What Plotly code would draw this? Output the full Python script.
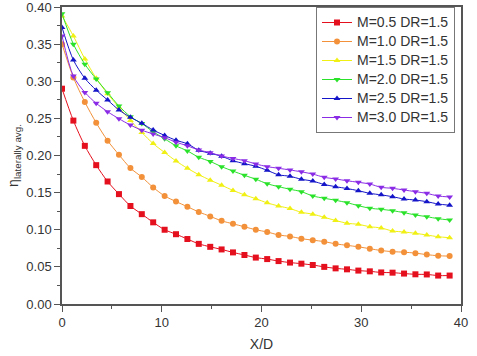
import plotly.graph_objects as go

x_d = [0, 1.14, 2.29, 3.43, 4.57, 5.71, 6.86, 8.0, 9.14, 10.29, 11.43, 12.57, 13.71, 14.86,
       16.0, 17.14, 18.29, 19.43, 20.57, 21.71, 22.86, 24.0, 25.14, 26.29, 27.43, 28.57,
       29.71, 30.86, 32.0, 33.14, 34.29, 35.43, 36.57, 37.71, 38.86]

m05 = [0.290, 0.247, 0.213, 0.187, 0.165, 0.148, 0.132, 0.121, 0.110, 0.100, 0.094, 0.0875,
       0.081, 0.077, 0.0735, 0.0695, 0.066, 0.0625, 0.0605, 0.0578, 0.0558, 0.0543, 0.0525,
       0.050, 0.048, 0.0467, 0.045, 0.044, 0.0425, 0.0422, 0.041, 0.040, 0.0398, 0.0383, 0.0383]
m10 = [0.350, 0.305, 0.272, 0.244, 0.220, 0.201, 0.183, 0.171, 0.157, 0.1455, 0.138, 0.131,
       0.124, 0.118, 0.112, 0.108, 0.104, 0.100, 0.097, 0.093, 0.091, 0.088, 0.086, 0.084,
       0.081, 0.079, 0.077, 0.0745, 0.072, 0.0705, 0.0698, 0.0685, 0.0665, 0.065, 0.0645]
m15 = [0.388, 0.361, 0.330, 0.304, 0.283, 0.265, 0.247, 0.231, 0.216, 0.204, 0.1926, 0.1828,
       0.1742, 0.1668, 0.160, 0.153, 0.147, 0.1418, 0.1362, 0.132, 0.1285, 0.1235, 0.121,
       0.1168, 0.1125, 0.1088, 0.1073, 0.1041, 0.1024, 0.0983, 0.097, 0.0952, 0.0929, 0.0906, 0.0893]
m20 = [0.391, 0.350, 0.323, 0.303, 0.2846, 0.2667, 0.2523, 0.243, 0.232, 0.2225, 0.213,
       0.2062, 0.1976, 0.192, 0.185, 0.179, 0.1733, 0.168, 0.162, 0.158, 0.1545, 0.1513,
       0.1455, 0.1424, 0.1397, 0.1365, 0.1324, 0.129, 0.1275, 0.1257, 0.123, 0.1199, 0.1176,
       0.1149, 0.1131]
m25 = [0.3725, 0.3286, 0.304, 0.288, 0.2747, 0.2613, 0.2514, 0.2433, 0.2343, 0.227, 0.2205,
       0.2158, 0.207, 0.203, 0.199, 0.193, 0.189, 0.1855, 0.180, 0.174, 0.172, 0.168, 0.1655,
       0.161, 0.158, 0.1555, 0.1526, 0.149, 0.147, 0.1445, 0.1414, 0.140, 0.1378, 0.1347, 0.133]
m30 = [0.361, 0.307, 0.285, 0.2703, 0.259, 0.2495, 0.241, 0.234, 0.229, 0.224, 0.218, 0.213,
       0.2074, 0.2038, 0.1993, 0.196, 0.193, 0.1886, 0.185, 0.1828, 0.1805, 0.178, 0.175,
       0.1706, 0.1684, 0.166, 0.1639, 0.1616, 0.1571, 0.1558, 0.1535, 0.1513, 0.149, 0.1455, 0.1441]

names = ["M=0.5 DR=1.5", "M=1.0 DR=1.5", "M=1.5 DR=1.5",
         "M=2.0 DR=1.5", "M=2.5 DR=1.5", "M=3.0 DR=1.5"]
series = [m05, m10, m15, m20, m25, m30]
colors = ["#E5101E", "#F2913A", "#F0F014", "#2BE22B", "#1414C8", "#8A2BE6"]
symbols = ["square", "circle", "triangle-up", "triangle-down", "triangle-up", "triangle-down"]

fig = go.Figure()
for nm, ys, c, s in zip(names, series, colors, symbols):
    fig.add_trace(go.Scatter(
        x=x_d, y=ys, name='<span style="font-size:14px">' + nm + '</span>',
        mode="lines+markers",
        line=dict(color=c, width=1, shape="spline", smoothing=0.8),
        marker=dict(symbol=s, size=6, color=c, line=dict(width=0)),
    ))

axis_common = dict(
    showline=True, linecolor="#555555", linewidth=1.5, mirror=True,
    ticks="outside", ticklen=6, tickwidth=1.2, tickcolor="#555555",
    showgrid=False, zeroline=False, ticklabeloverflow="allow",
    tickfont=dict(family="Liberation Sans, Arial", size=13, color="#333333"),
)

fig.update_xaxes(
    range=[0, 40], tickvals=[0, 10, 20, 30, 40],
    minor=dict(ticks="outside", ticklen=3, tickwidth=1.2, tickcolor="#555555", dtick=5),
    title=dict(text="X/D", font=dict(family="Liberation Sans, Arial", size=14, color="#333333"), standoff=10),
    **axis_common,
)
fig.update_yaxes(
    range=[0, 0.40], tickvals=[0, 0.05, 0.10, 0.15, 0.20, 0.25, 0.30, 0.35, 0.40],
    ticktext=["0.00", "0.05", "0.10", "0.15", "0.20", "0.25", "0.30", "0.35", "0.40"],
    minor=dict(ticks="outside", ticklen=3, tickwidth=1.2, tickcolor="#555555", dtick=0.025),
    title=dict(text="η<sub>laterally avg.</sub>", font=dict(family="Liberation Sans, Arial", size=14, color="#333333"), standoff=4),
    **axis_common,
)

fig.update_layout(
    width=477, height=356,
    margin=dict(l=62, r=16, t=7, b=52, autoexpand=False),
    paper_bgcolor="white", plot_bgcolor="white",
    legend=dict(
        x=0.985, y=1.0, xanchor="right", yanchor="top",
        bordercolor="#777777", borderwidth=1, bgcolor="white",
        font=dict(family="Liberation Sans, Arial", size=12, color="#333333"),
        tracegroupgap=0, itemwidth=30,
    ),
    showlegend=True,
)

fig.write_html("out.html", config={"displayModeBar": False},
               post_script="document.body.style.margin='0px';")
